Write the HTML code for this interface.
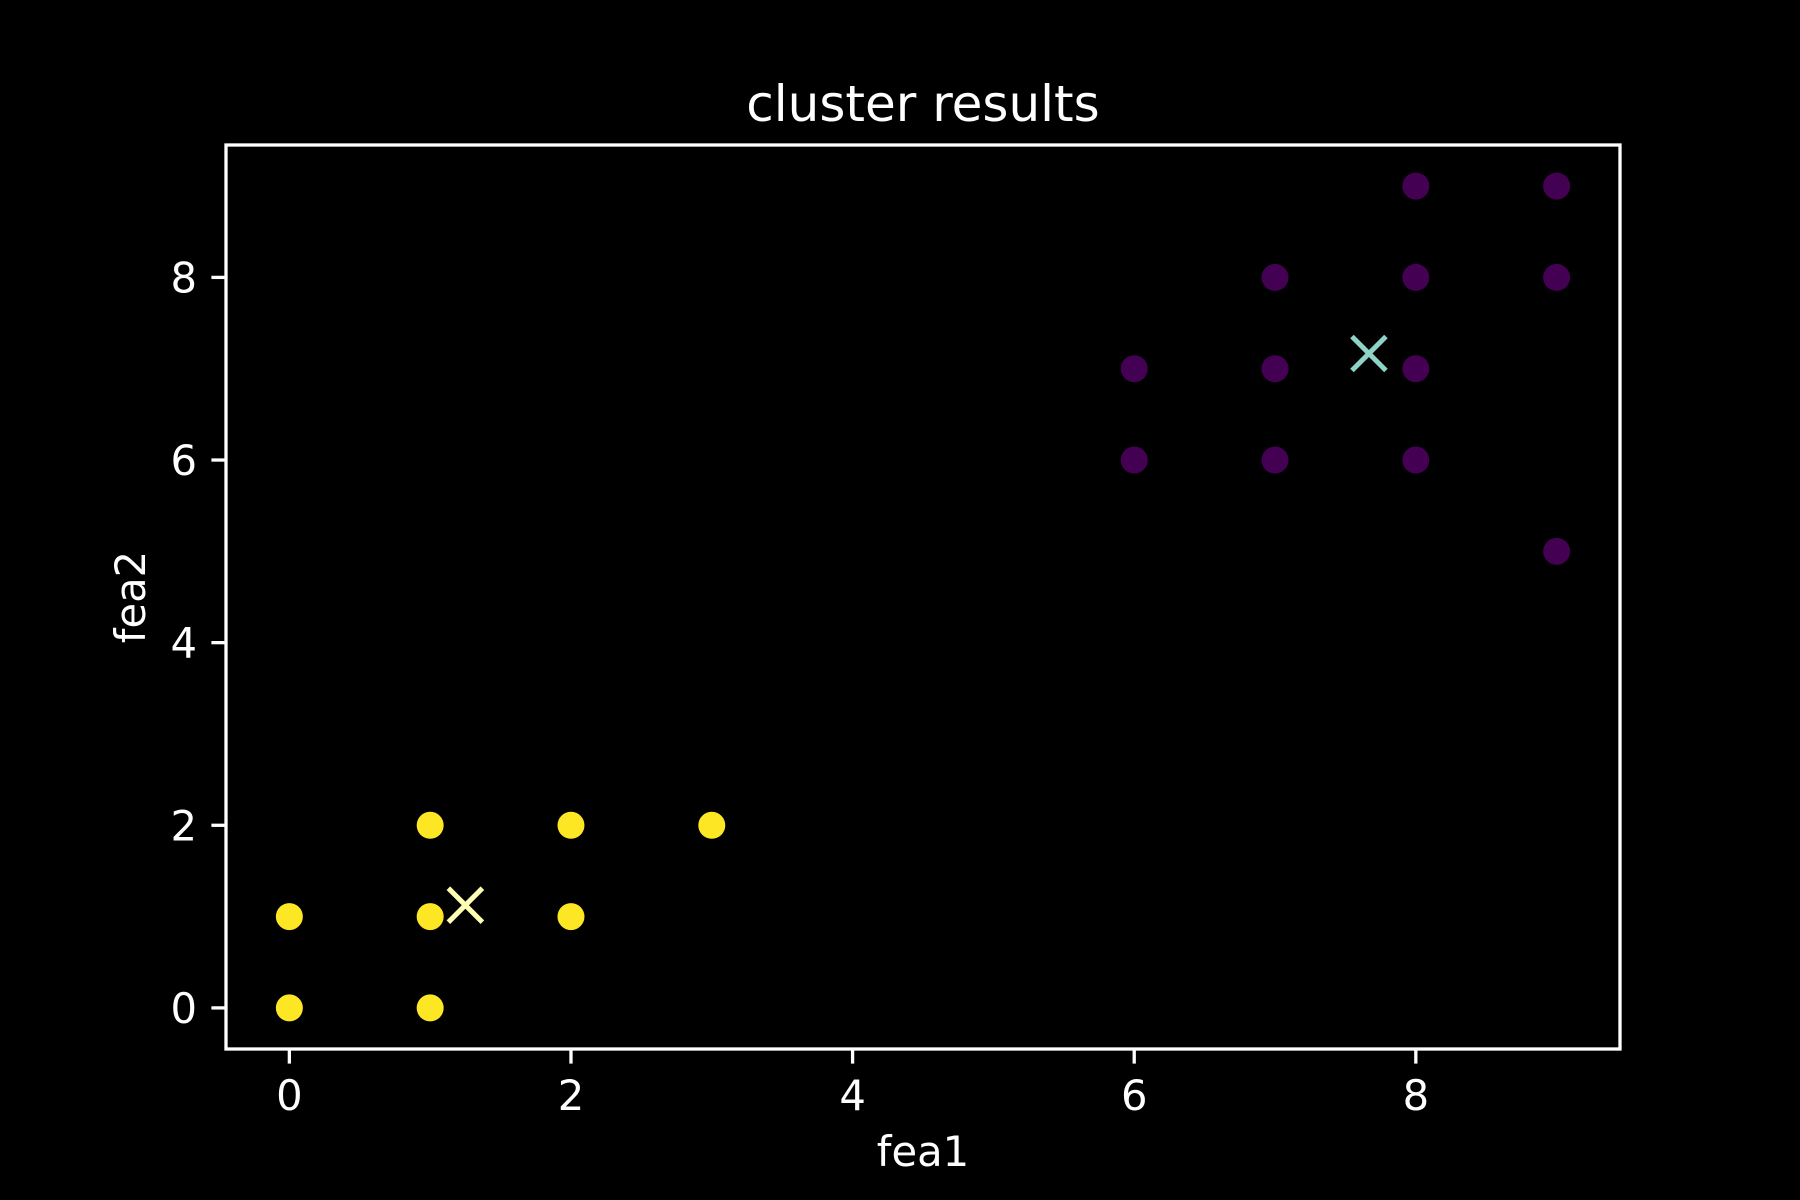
<!DOCTYPE html>
<html><head><meta charset="utf-8"><style>
html,body{margin:0;padding:0;background:#000;}
svg{display:block;font-family:"DejaVu Sans","Liberation Sans",sans-serif;}
</style></head><body>
<svg id="chart" width="1800" height="1200" viewBox="0 0 1800 1200" xmlns="http://www.w3.org/2000/svg">
<rect width="1800" height="1200" fill="#000"/>
<text x="923" y="121" fill="#fff" font-size="50" text-anchor="middle">cluster results</text>
<g id="marks"></g>
<rect x="226" y="145" width="1394" height="904" fill="none" stroke="#fff" stroke-width="3.3"/>
<g id="axes"></g>
<text x="923" y="1166" fill="#fff" font-size="41.7" text-anchor="middle">fea1</text>
<text x="0" y="0" transform="translate(145,597) rotate(-90)" fill="#fff" font-size="41.7" text-anchor="middle">fea2</text>
</svg>
<script>
const cluster0X = [6,6,7,7,7,8,8,8,8,9,9,9];
const cluster0Y = [6,7,6,7,8,6,7,8,9,5,8,9];
const cluster1X = [0,0,1,1,1,2,2,3];
const cluster1Y = [0,1,0,1,2,1,2,2];
const centroidX = [7.667,1.25];
const centroidY = [7.167,1.125];
const xTicks = [0,2,4,6,8];
const yTicks = [0,2,4,6,8];
const xTickLabels = ["0","2","4","6","8"];
const yTickLabels = ["0","2","4","6","8"];

const L=226,R=1620,T=145,B=1049;
const xMin=-0.45,xMax=9.45,yMin=-0.45,yMax=9.45;
const sx=v=>L+(v-xMin)/(xMax-xMin)*(R-L);
const sy=v=>B-(v-yMin)/(yMax-yMin)*(B-T);
const NS="http://www.w3.org/2000/svg";
const marks=document.getElementById('marks');
const axes=document.getElementById('axes');
function mk(tag,attrs,parent){const e=document.createElementNS(NS,tag);for(const k in attrs)e.setAttribute(k,attrs[k]);parent.appendChild(e);return e;}

cluster0X.forEach((x,i)=>{
  const c=mk('circle',{cx:sx(x),cy:sy(cluster0Y[i]),r:13.5,fill:'#440154'},marks);
  
  
});
cluster1X.forEach((x,i)=>{
  const c=mk('circle',{cx:sx(x),cy:sy(cluster1Y[i]),r:13.5,fill:'#fde725'},marks);
  
  
});
const cColors=['#8dd3c7','#ffffb3'];
centroidX.forEach((x,i)=>{
  const cx=sx(x),cy=sy(centroidY[i]),h=17;
  const g=mk('g',{stroke:cColors[i],'stroke-width':5},marks);
  
  
  mk('line',{x1:cx-h,y1:cy-h,x2:cx+h,y2:cy+h},g);
  mk('line',{x1:cx-h,y1:cy+h,x2:cx+h,y2:cy-h},g);
});
xTicks.forEach((t,i)=>{
  const x=sx(t);
  const l=mk('line',{x1:x,y1:B,x2:x,y2:B+14.6,stroke:'#fff','stroke-width':3.3},axes);
  
  
  const tx=mk('text',{x:x,y:1110,fill:'#fff','font-size':41.7,'text-anchor':'middle'},axes);
  tx.textContent=xTickLabels[i];
  
  
});
yTicks.forEach((t,i)=>{
  const y=sy(t);
  const l=mk('line',{x1:L-14.6,y1:y,x2:L,y2:y,stroke:'#fff','stroke-width':3.3},axes);
  
  
  const tx=mk('text',{x:L-29,y:y+15,fill:'#fff','font-size':41.7,'text-anchor':'end'},axes);
  tx.textContent=yTickLabels[i];
  
  
});
</script>
</body></html>
